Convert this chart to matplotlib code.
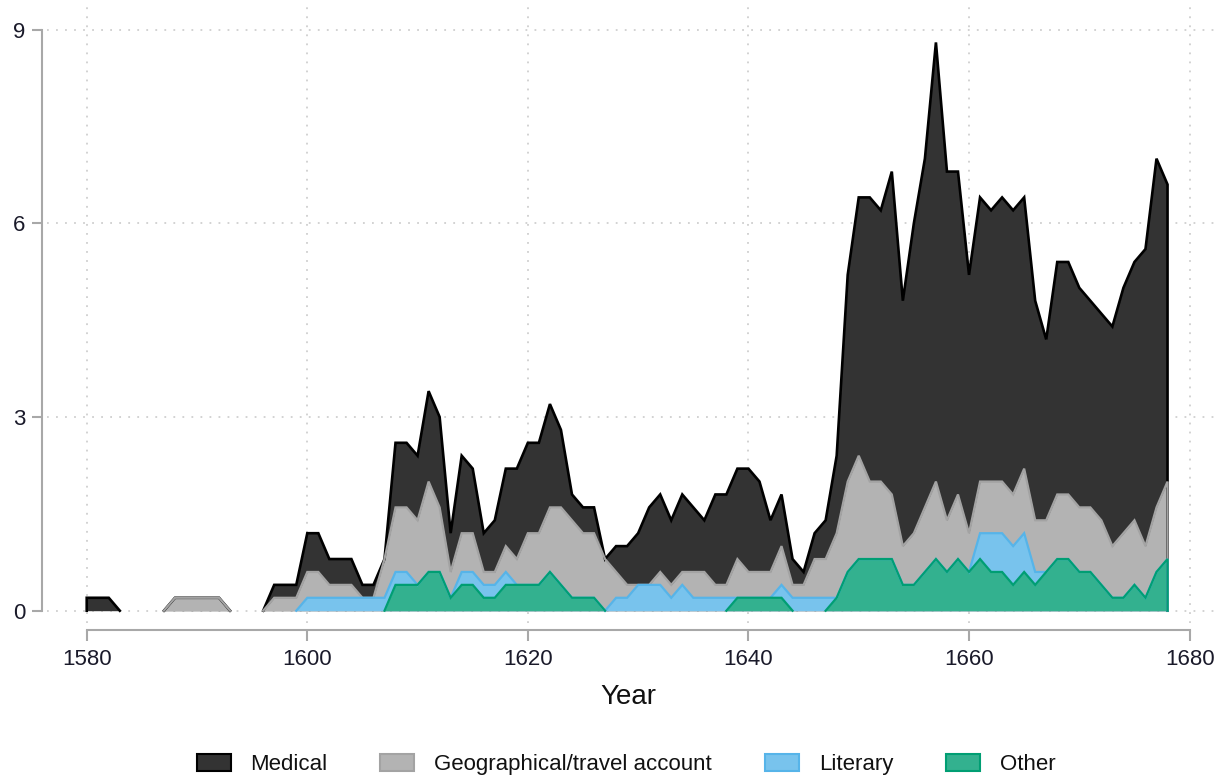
import numpy as np
import matplotlib
matplotlib.use("Agg")
import matplotlib.pyplot as plt
import matplotlib.patches as mpatches

plt.rcParams['font.family'] = ['Liberation Sans', 'DejaVu Sans']

# 5-year moving averages by genre, 1580-1678
years = np.arange(1580, 1679)

medical = [0.2, 0.2, 0.2, 0, 0, 0, 0, 0, 0, 0,
           0, 0, 0, 0, 0, 0, 0, 0.2, 0.2, 0.2,
           0.6, 0.6, 0.4, 0.4, 0.4, 0.2, 0.2, 0, 1.0, 1.0,
           1.0, 1.4, 1.4, 0.6, 1.2, 1.0, 0.6, 0.8, 1.2, 1.4,
           1.4, 1.4, 1.6, 1.2, 0.4, 0.4, 0.4, 0, 0.4, 0.6,
           0.8, 1.2, 1.2, 1.0, 1.2, 1.0, 0.8, 1.4, 1.4, 1.4,
           1.6, 1.4, 0.8, 0.8, 0.4, 0.2, 0.4, 0.6, 1.2, 3.2,
           4.0, 4.4, 4.2, 5.0, 3.8, 4.8, 5.4, 6.8, 5.4, 5.0,
           4.0, 4.4, 4.2, 4.4, 4.4, 4.2, 3.4, 2.8, 3.6, 3.6,
           3.4, 3.2, 3.2, 3.4, 3.8, 4.0, 4.6, 5.4, 4.6]

geographical = [0, 0, 0, 0, 0, 0, 0, 0, 0.2, 0.2,
                0.2, 0.2, 0.2, 0, 0, 0, 0, 0.2, 0.2, 0.2,
                0.4, 0.4, 0.2, 0.2, 0.2, 0, 0, 0.6, 1.0, 1.0,
                1.0, 1.4, 1.0, 0.4, 0.6, 0.6, 0.2, 0.2, 0.4, 0.4,
                0.8, 0.8, 1.0, 1.2, 1.2, 1.0, 1.0, 0.8, 0.4, 0.2,
                0, 0, 0.2, 0.2, 0.2, 0.4, 0.4, 0.2, 0.2, 0.6,
                0.4, 0.4, 0.4, 0.6, 0.2, 0.2, 0.6, 0.6, 1.0, 1.4,
                1.6, 1.2, 1.2, 1.0, 0.6, 0.8, 1.0, 1.2, 0.8, 1.0,
                0.6, 0.8, 0.8, 0.8, 0.8, 1.0, 0.8, 0.8, 1.0, 1.0,
                1.0, 1.0, 1.0, 0.8, 1.0, 1.0, 0.8, 1.0, 1.2]

literary = [0, 0, 0, 0, 0, 0, 0, 0, 0, 0,
            0, 0, 0, 0, 0, 0, 0, 0, 0, 0,
            0.2, 0.2, 0.2, 0.2, 0.2, 0.2, 0.2, 0.2, 0.2, 0.2,
            0, 0, 0, 0, 0.2, 0.2, 0.2, 0.2, 0.2, 0,
            0, 0, 0, 0, 0, 0, 0, 0, 0.2, 0.2,
            0.4, 0.4, 0.4, 0.2, 0.4, 0.2, 0.2, 0.2, 0.2, 0,
            0, 0, 0, 0.2, 0.2, 0.2, 0.2, 0.2, 0, 0,
            0, 0, 0, 0, 0, 0, 0, 0, 0, 0,
            0, 0.4, 0.6, 0.6, 0.6, 0.6, 0.2, 0, 0, 0,
            0, 0, 0, 0, 0, 0, 0, 0, 0]

other = [0, 0, 0, 0, 0, 0, 0, 0, 0, 0,
         0, 0, 0, 0, 0, 0, 0, 0, 0, 0,
         0, 0, 0, 0, 0, 0, 0, 0, 0.4, 0.4,
         0.4, 0.6, 0.6, 0.2, 0.4, 0.4, 0.2, 0.2, 0.4, 0.4,
         0.4, 0.4, 0.6, 0.4, 0.2, 0.2, 0.2, 0, 0, 0,
         0, 0, 0, 0, 0, 0, 0, 0, 0, 0.2,
         0.2, 0.2, 0.2, 0.2, 0, 0, 0, 0, 0.2, 0.6,
         0.8, 0.8, 0.8, 0.8, 0.4, 0.4, 0.6, 0.8, 0.6, 0.8,
         0.6, 0.8, 0.6, 0.6, 0.4, 0.6, 0.4, 0.6, 0.8, 0.8,
         0.6, 0.6, 0.4, 0.2, 0.2, 0.4, 0.2, 0.6, 0.8]

labels = ['Medical', 'Geographical/travel account', 'Literary', 'Other']
fills = ['#333333', '#b3b3b3', '#78c3ed', '#33b18f']
edges = ['#000000', '#a3a3a3', '#56b4e9', '#009e73']

# stacked from the bottom: other, literary, geographical, medical
stack = np.vstack([other, literary, geographical, medical])
cum = np.round(np.cumsum(stack, axis=0), 2)
# drawing order: topmost total first, other last
tops = [cum[3], cum[2], cum[1], cum[0]]


def outline(x, y):
    # top edge plus end verticals, with runs along zero left out
    ex = np.concatenate([[x[0]], x, [x[-1]]]).astype(float)
    ey = np.concatenate([[0.0], y, [0.0]]).astype(float)
    zero = np.isclose(ey, 0)
    keep = ~zero
    keep[:-1] |= ~zero[1:]
    keep[1:] |= ~zero[:-1]
    ey = np.where(keep, ey, np.nan)
    return ex, ey


fig = plt.figure(figsize=(12.18, 7.76), dpi=100)
ax = fig.add_axes([0.0386, 0.1972, 0.9589, 0.7964])

for top, fc, ec in zip(tops, fills, edges):
    ax.fill_between(years, top, 0, color=fc, linewidth=0)
    lx, ly = outline(years, top)
    lw = 1.9 if ec == '#000000' else 1.6
    ax.plot(lx, ly, color=ec, lw=lw, solid_joinstyle='miter')

ax.set_xlim(1576.4, 1682.3)
ax.set_ylim(-0.19, 9.38)
ax.set_xticks(np.arange(1580, 1681, 20))
ax.set_yticks([0, 3, 6, 9])
ax.grid(True, color='#cfcfcf', linestyle=(0, (1, 4)), linewidth=1.3)
ax.set_axisbelow(True)

for side in ['top', 'right']:
    ax.spines[side].set_visible(False)
ax.spines['left'].set_position(('outward', 3.5))
ax.spines['bottom'].set_position(('outward', 5))
ax.spines['left'].set_bounds(0, 9)
ax.spines['bottom'].set_bounds(1580, 1680)
for side in ['left', 'bottom']:
    ax.spines[side].set_color('#a8a8a8')
    ax.spines[side].set_linewidth(1.5)
ax.tick_params(axis='both', colors='#a8a8a8', width=1.5, labelsize=16,
               labelcolor='#1a1a2a')
ax.tick_params(axis='y', length=7, pad=5)
ax.tick_params(axis='x', length=8, pad=6)

fig.text(0.5156, 0.1018, 'Year', ha='center', va='center', fontsize=20,
         color='#111111')

handles = [mpatches.Patch(facecolor=fc, edgecolor=ec, linewidth=1.5, label=lb)
           for fc, ec, lb in zip(fills, edges, labels)]
fig.legend(handles=handles, loc='center', bbox_to_anchor=(0.514, 0.0145),
           bbox_transform=fig.transFigure, ncol=4, frameon=False, fontsize=16,
           handlelength=1.53, handleheight=0.81, handletextpad=0.9,
           columnspacing=2.37, borderpad=0, labelcolor='#111111')

fig.savefig('out.png', dpi=100)
